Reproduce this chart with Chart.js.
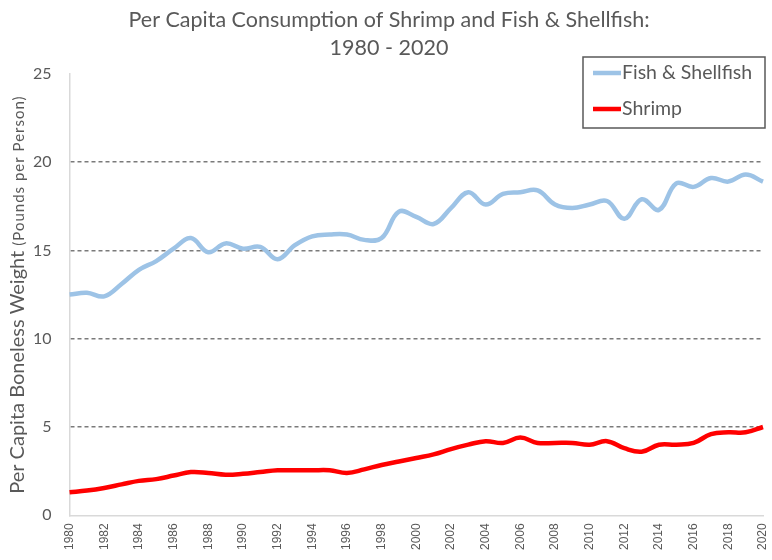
<!DOCTYPE html>
<html>
<head>
<meta charset="utf-8">
<script src="https://cdn.jsdelivr.net/npm/chart.js@4"></script>
<style>
  body { margin: 0; background: #fff; }
</style>
</head>
<body>
<canvas id="shrimpChart" width="772" height="560"></canvas>
<script>
// donnees
var years = [];
for (var y = 1980; y <= 2020; y++) years.push(String(y));

var fishShellfish = [12.5, 12.6, 12.4, 13.1, 13.9, 14.4, 15.1, 15.7, 14.9, 15.4,
                     15.1, 15.2, 14.5, 15.3, 15.8, 15.9, 15.9, 15.6, 15.7, 17.2,
                     16.9, 16.5, 17.4, 18.3, 17.6, 18.2, 18.3, 18.4, 17.6, 17.4,
                     17.6, 17.8, 16.8, 17.9, 17.3, 18.8, 18.6, 19.1, 18.9, 19.3,
                     18.9];
var shrimp = [1.3, 1.4, 1.55, 1.75, 1.95, 2.05, 2.25, 2.45, 2.4, 2.3,
              2.35, 2.45, 2.55, 2.55, 2.55, 2.55, 2.4, 2.6, 2.85, 3.05,
              3.25, 3.45, 3.75, 4.0, 4.2, 4.1, 4.4, 4.1, 4.1, 4.1,
              4.0, 4.2, 3.8, 3.6, 4.0, 4.0, 4.1, 4.6, 4.7, 4.7,
              5.0];
var yTicks = [0, 5, 10, 15, 20, 25];

var grey = '#595959';

// legende et titre de l'axe y dessines a la main
var customDraw = {
    id: 'customDraw',
    afterDraw: function(chart) {
        var ctx = chart.ctx;
        var area = chart.chartArea;

        // titre axe y : deux tailles de police
        var part1 = 'Per Capita Boneless Weight ';
        var part2 = '(Pounds per Person)';
        ctx.save();
        ctx.translate(18, (area.top + area.bottom) / 2);
        ctx.rotate(-Math.PI / 2);
        ctx.fillStyle = grey;
        ctx.textBaseline = 'middle';
        ctx.textAlign = 'left';
        ctx.font = '20px Lato';
        var w1 = ctx.measureText(part1).width;
        ctx.font = '15px Lato';
        ctx.letterSpacing = '1px';
        var w2 = ctx.measureText(part2).width;
        ctx.letterSpacing = '0px';
        var start = -(w1 + w2) / 2;
        ctx.font = '20px Lato';
        ctx.fillText(part1, start, 0);
        ctx.font = '15px Lato';
        ctx.letterSpacing = '1px';
        ctx.fillText(part2, start + w1, 1);
        ctx.restore();

        // boite de legende
        var bx = 583, by = 57, bw = 182, bh = 71;
        ctx.save();
        ctx.fillStyle = '#fff';
        ctx.fillRect(bx, by, bw, bh);
        ctx.strokeStyle = '#595959';
        ctx.lineWidth = 1.5;
        ctx.strokeRect(bx, by, bw, bh);
        ctx.font = '19.5px Lato';
        ctx.textBaseline = 'middle';
        chart.data.datasets.forEach(function(ds, i) {
            var ly = by + 16 + i * 36;
            ctx.strokeStyle = ds.borderColor;
            ctx.lineWidth = 4.5;
            ctx.beginPath();
            ctx.moveTo(bx + 10, ly);
            ctx.lineTo(bx + 38, ly);
            ctx.stroke();
            ctx.fillStyle = grey;
            ctx.fillText(ds.label, bx + 39, ly);
        });
        ctx.restore();
    }
};

var ctx = document.getElementById('shrimpChart').getContext('2d');
var chart = new Chart(ctx, {
    type: 'line',
    data: {
        labels: years,
        datasets: [{
            label: 'Fish & Shellfish',
            data: fishShellfish,
            borderColor: '#9DC3E6',
            borderWidth: 4.5,
            pointRadius: 0,
            tension: 0.4,
            fill: false
        }, {
            label: 'Shrimp',
            data: shrimp,
            borderColor: '#FF0000',
            borderWidth: 4.5,
            pointRadius: 0,
            tension: 0.4,
            fill: false
        }]
    },
    options: {
        responsive: false,
        animation: false,
        layout: {
            padding: { left: 15, right: 9, top: 0, bottom: 2 }
        },
        plugins: {
            legend: { display: false },
            tooltip: { enabled: false },
            title: {
                display: true,
                text: ['Per Capita Consumption of Shrimp and Fish & Shellfish:', '1980 - 2020'],
                color: grey,
                font: { family: 'Lato', size: 21.5, weight: 'normal', lineHeight: 1.3 },
                padding: { top: 6, bottom: 12 }
            }
        },
        scales: {
            x: {
                offset: false,
                grid: { display: false, drawTicks: false },
                border: { color: '#d9d9d9', width: 1.5 },
                afterFit: function(scale) {
                    scale.paddingRight = 0;
                },
                ticks: {
                    autoSkip: false,
                    maxRotation: 90,
                    minRotation: 90,
                    padding: 8,
                    color: grey,
                    font: { family: 'Liberation Sans', size: 12 },
                    callback: function(val, idx) {
                        return idx % 2 === 0 ? years[idx] : '';
                    }
                }
            },
            y: {
                min: yTicks[0],
                max: yTicks[yTicks.length - 1],
                afterBuildTicks: function(scale) {
                    scale.ticks = yTicks.map(function(v) { return { value: v }; });
                },
                border: { color: '#d9d9d9', width: 1.5, dash: [4, 3] },
                grid: {
                    drawTicks: false,
                    color: function(c) {
                        var v = c.tick.value;
                        return (v === 0 || v === 25) ? 'rgba(0,0,0,0)' : '#7a7a7a';
                    },
                    lineWidth: 1.6
                },
                ticks: {
                    padding: 18,
                    color: grey,
                    font: { family: 'Lato', size: 16 }
                }
            }
        }
    },
    plugins: [customDraw]
});
</script>
</body>
</html>
